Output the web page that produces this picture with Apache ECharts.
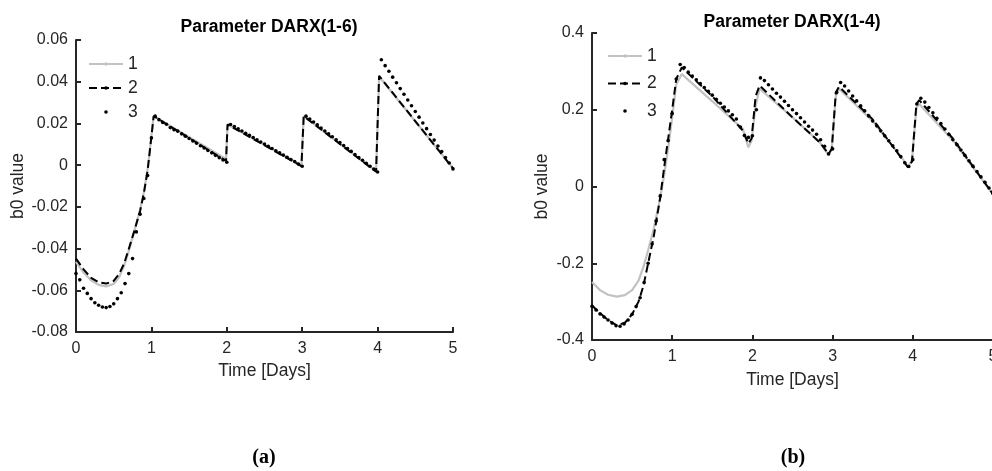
<!DOCTYPE html>
<html>
<head>
<meta charset="utf-8">
<script src="https://cdn.jsdelivr.net/npm/echarts@6/dist/echarts.min.js"></script>
<style>
html,body{margin:0;padding:0;background:#fff;}
#chart{width:992px;height:471px;}
</style>
</head>
<body>
<div id="chart"></div>
<script>
// ---------- Data ----------
const seriesNames = ['1', '2', '3'];
const xTicks = [0, 1, 2, 3, 4, 5];
const titleA = 'Parameter DARX(1-6)';
const titleB = 'Parameter DARX(1-4)';
const xLabel = 'Time [Days]';
const yLabel = 'b0 value';
const captions = ['(a)', '(b)'];

// Panel (a): lines 1 and 2 at knot times
const daysLineA = [0, 0.1, 0.2, 0.3, 0.4, 0.5, 0.575, 0.64, 0.71, 0.77, 0.85, 0.9, 0.95, 1.0, 1.03, 1.99, 2.01, 2.99, 3.02, 3.98, 4.02, 5.0];
const a1 = [-0.0464, -0.0515, -0.0552, -0.0574, -0.0581, -0.057, -0.0535, -0.048, -0.040, -0.032, -0.0215, -0.013, -0.002, 0.014, 0.0235, 0.003, 0.0195, 0.0, 0.0235, -0.003, 0.0425, -0.0015];
const a2 = [-0.0448, -0.050, -0.054, -0.0562, -0.0568, -0.0555, -0.052, -0.047, -0.039, -0.032, -0.022, -0.0135, -0.0025, 0.0135, 0.0235, 0.002, 0.0195, -0.0005, 0.0235, -0.0032, 0.0428, -0.0015];

// Sample times of the dotted series (both panels)
const daysDot = [0,0.05,0.1,0.15,0.2,0.25,0.3,0.35,0.4,0.45,0.5,0.55,0.6,0.65,0.7,0.75,0.8,0.85,0.9,0.95,
  1,1.05,1.1,1.15,1.2,1.25,1.3,1.35,1.4,1.45,1.5,1.55,1.6,1.65,1.7,1.75,1.8,1.85,1.9,1.95,
  2,2.05,2.1,2.15,2.2,2.25,2.3,2.35,2.4,2.45,2.5,2.55,2.6,2.65,2.7,2.75,2.8,2.85,2.9,2.95,
  3,3.05,3.1,3.15,3.2,3.25,3.3,3.35,3.4,3.45,3.5,3.55,3.6,3.65,3.7,3.75,3.8,3.85,3.9,3.95,
  4,4.05,4.1,4.15,4.2,4.25,4.3,4.35,4.4,4.45,4.5,4.55,4.6,4.65,4.7,4.75,4.8,4.85,4.9,4.95,5];

const a3 = [-0.052,-0.055,-0.059,-0.0615,-0.064,-0.066,-0.0672,-0.068,-0.0683,-0.0678,-0.0665,-0.064,-0.0612,-0.0568,-0.052,-0.0448,-0.032,-0.0235,-0.016,-0.005,
  0.013,0.0235,0.0218,0.0205,0.0196,0.018,0.017,0.0163,0.015,0.0139,0.0128,0.0116,0.0105,0.0093,0.0082,0.007,0.0059,0.0047,0.0036,0.0025,
  0.0014,0.0195,0.0185,0.0174,0.0164,0.0153,0.0143,0.0132,0.0122,0.0111,0.0101,0.009,0.008,0.0069,0.0059,0.0048,0.0038,0.0027,0.0017,0.0005,
  -0.0005,0.0235,0.0221,0.0207,0.0193,0.0178,0.0164,0.015,0.0136,0.0122,0.0108,0.0094,0.008,0.0066,0.0051,0.0037,0.0023,0.0009,-0.0005,-0.0019,
  -0.0033,0.0505,0.0477,0.045,0.0422,0.0395,0.0367,0.034,0.0312,0.0285,0.0257,0.023,0.0202,0.0175,0.0147,0.012,0.0092,0.0065,0.0037,0.001,-0.0018];

// Panel (b)
const daysLineB = [0, 0.1, 0.2, 0.31, 0.41, 0.5, 0.58, 0.64, 0.7, 0.77, 0.85, 0.9, 0.95, 1.0, 1.05, 1.12, 1.5, 1.88, 1.95, 1.99, 2.04, 2.09, 2.5, 2.84, 2.95, 2.99, 3.04, 3.08, 3.5, 3.88, 3.94, 3.99, 4.045, 4.08, 4.5, 5.0];
const b1 = [-0.249, -0.27, -0.282, -0.287, -0.283, -0.27, -0.245, -0.21, -0.166, -0.11, -0.03, 0.03, 0.10, 0.18, 0.265, 0.293, 0.222, 0.150, 0.102, 0.12, 0.21, 0.255, 0.180, 0.115, 0.082, 0.10, 0.235, 0.255, 0.17, 0.07, 0.05, 0.07, 0.205, 0.215, 0.12, -0.02];
const b2 = [-0.31, -0.33, -0.348, -0.362, -0.355, -0.333, -0.30, -0.26, -0.2, -0.13, -0.03, 0.05, 0.125, 0.2, 0.28, 0.31, 0.235, 0.146, 0.112, 0.125, 0.235, 0.263, 0.18, 0.115, 0.085, 0.098, 0.245, 0.26, 0.175, 0.068, 0.05, 0.065, 0.215, 0.225, 0.125, -0.02];
const b3 = [-0.312,-0.322,-0.332,-0.34,-0.348,-0.356,-0.363,-0.364,-0.358,-0.348,-0.333,-0.313,-0.29,-0.25,-0.2,-0.15,-0.09,-0.025,0.07,0.12,
  0.19,0.28,0.318,0.31,0.298,0.288,0.278,0.268,0.258,0.248,0.238,0.227,0.217,0.207,0.197,0.187,0.176,0.155,0.133,0.128,
  0.132,0.2,0.283,0.276,0.265,0.254,0.243,0.233,0.222,0.211,0.2,0.19,0.179,0.168,0.157,0.147,0.136,0.122,0.105,0.085,
  0.098,0.245,0.271,0.262,0.249,0.236,0.223,0.21,0.197,0.184,0.171,0.158,0.145,0.132,0.119,0.106,0.093,0.078,0.062,0.052,
  0.07,0.215,0.23,0.22,0.206,0.192,0.178,0.164,0.15,0.136,0.122,0.109,0.095,0.081,0.067,0.053,0.039,0.025,0.011,-0.004,-0.018];

// ---------- Build ----------
const zip = (xs, ys) => xs.map((x, i) => [x, ys[i]]);
const FONT = "'Liberation Sans', Arial, sans-serif";
const AX = '#262626';

function xAxisCfg(gi, nameGap) {
  return {
    gridIndex: gi, type: 'value', min: xTicks[0], max: xTicks[xTicks.length - 1], interval: 1,
    name: xLabel, nameLocation: 'middle', nameGap: nameGap,
    nameTextStyle: { fontFamily: FONT, fontSize: 17.5, color: AX },
    axisLine: { show: true, onZero: false, lineStyle: { color: AX, width: 2 } },
    axisTick: { show: true, inside: true, length: 5, lineStyle: { color: AX, width: 2 } },
    axisLabel: { fontFamily: FONT, fontSize: 16, color: AX, margin: 9 },
    splitLine: { show: false }
  };
}
function yAxisCfg(gi, min, max, interval, nameGap) {
  return {
    gridIndex: gi, type: 'value', min: min, max: max, interval: interval,
    name: yLabel, nameLocation: 'middle', nameGap: nameGap,
    nameTextStyle: { fontFamily: FONT, fontSize: 17.5, color: AX },
    axisLine: { show: true, onZero: false, lineStyle: { color: AX, width: 2 } },
    axisTick: { show: true, inside: true, length: 5, lineStyle: { color: AX, width: 2 } },
    axisLabel: { fontFamily: FONT, fontSize: 16, color: AX, margin: 8,
      formatter: v => String(Math.round(v * 100) / 100) },
    splitLine: { show: false }
  };
}
function seriesSet(gi, d1, y1, d2, y2, d3, y3) {
  return [
    { name: seriesNames[0], type: 'line', xAxisIndex: gi, yAxisIndex: gi, data: zip(d1, y1),
      symbol: 'none', showSymbol: false, lineStyle: { color: '#c2c2c2', width: 2.2 }, itemStyle: { color: '#c2c2c2' }, z: 2 },
    { name: seriesNames[1], type: 'line', xAxisIndex: gi, yAxisIndex: gi, data: zip(d2, y2),
      symbol: 'none', showSymbol: false, lineStyle: { color: '#000', width: 2, type: [8, 4] }, itemStyle: { color: '#000' }, z: 3 },
    { name: seriesNames[2], type: 'line', xAxisIndex: gi, yAxisIndex: gi, data: zip(d3, y3),
      symbol: 'circle', symbolSize: 3.6, showSymbol: true, lineStyle: { width: 0, opacity: 0 }, itemStyle: { color: '#000' }, z: 4 }
  ];
}
function legendCfg(left, top, gap) {
  return {
    data: seriesNames, orient: 'vertical', left: left, top: top, padding: 0, itemWidth: 34, itemHeight: 4.5, itemGap: gap,
    selectedMode: false, textStyle: { fontFamily: FONT, fontSize: 17.5, color: AX, lineHeight: 18 },
    lineStyle: { type: 'inherit' }
  };
}

const chart = echarts.init(document.getElementById('chart'), null, { renderer: 'canvas' });
chart.setOption({
  animation: false,
  backgroundColor: '#fff',
  title: [
    { text: titleA, left: 264, top: 13, textAlign: 'center', padding: 5,
      textStyle: { fontFamily: FONT, fontSize: 17.5, fontWeight: 'bold', color: '#000' } },
    { text: titleB, left: 787, top: 8, textAlign: 'center', padding: 5,
      textStyle: { fontFamily: FONT, fontSize: 17.5, fontWeight: 'bold', color: '#000' } }
  ],
  grid: [
    { left: 76, top: 40, width: 377, height: 292, containLabel: false, outerBoundsMode: 'none' },
    { left: 592, top: 33, width: 401, height: 307, containLabel: false, outerBoundsMode: 'none' }
  ],
  xAxis: [xAxisCfg(0, 30), xAxisCfg(1, 31)],
  yAxis: [yAxisCfg(0, -0.08, 0.06, 0.02, 48), yAxisCfg(1, -0.4, 0.4, 0.2, 41)],
  legend: [legendCfg(88, 55, 6), legendCfg(607, 47, 9.5)],
  series: [].concat(
    seriesSet(0, daysLineA, a1, daysLineA, a2, daysDot, a3),
    seriesSet(1, daysLineB, b1, daysLineB, b2, daysDot, b3)
  ),
  graphic: [
    { type: 'text', x: 264, y: 458, style: { text: captions[0], textAlign: 'center', textVerticalAlign: 'middle',
      font: "bold 20px 'Liberation Serif', serif", fill: '#000' } },
    { type: 'text', x: 793, y: 458, style: { text: captions[1], textAlign: 'center', textVerticalAlign: 'middle',
      font: "bold 20px 'Liberation Serif', serif", fill: '#000' } }
  ]
});
</script>
</body>
</html>
